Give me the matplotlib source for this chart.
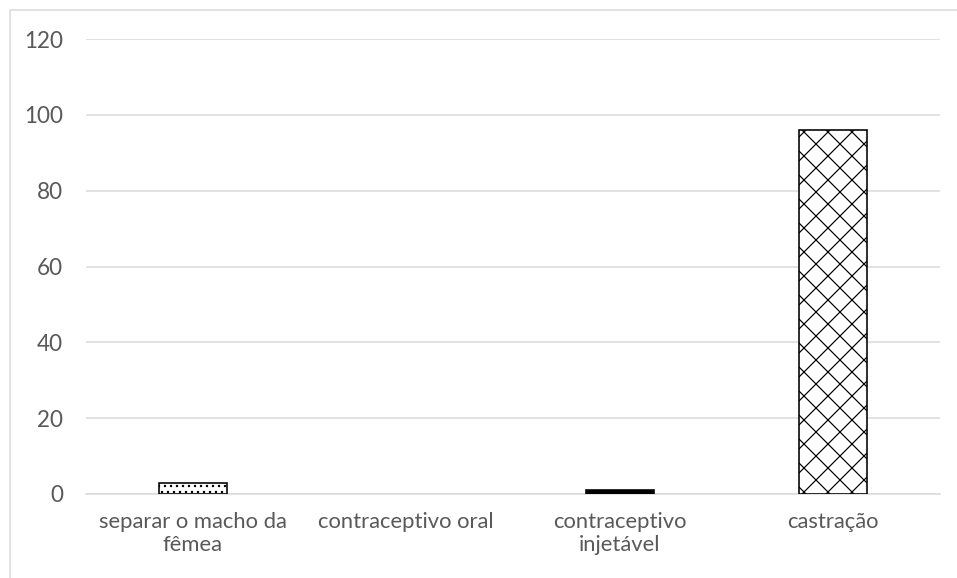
import matplotlib
matplotlib.use("Agg")
import matplotlib.pyplot as plt
from matplotlib.patches import Rectangle

categories = ["separar o macho da\nfêmea", "contraceptivo oral", "contraceptivo\ninjetável", "castração"]
values = [3, 0, 1, 96]
y_ticks = [0, 20, 40, 60, 80, 100, 120]

hatches = ["..", "", "", "x"]
faces = ["white", "white", "black", "white"]

plt.rcParams["font.family"] = ["Lato", "DejaVu Sans"]
plt.rcParams["hatch.linewidth"] = 1.2

W, H, DPI = 957, 578, 72
fig = plt.figure(figsize=(W / DPI, H / DPI), dpi=DPI)
fig.patch.set_facecolor("white")

# light frame around the chart area
fig.add_artist(Rectangle((9.5 / W, -0.1), 1.2, 1.1 - 9.5 / H, transform=fig.transFigure,
                         fill=False, edgecolor="#d9d9d9", linewidth=1.5))

ax = fig.add_axes([86 / W, 84 / H, (940 - 86) / W, (494 - 39) / H])
x = list(range(len(categories)))
bars = ax.bar(x, values, width=0.32, color=faces, edgecolor="black", linewidth=1.6,
              hatch=hatches, zorder=3)
for b, v in zip(bars, values):
    if v == 0:
        b.set_linewidth(0)

ax.set_xlim(-0.5, len(categories) - 0.5)
ax.set_ylim(0, 120)
ax.set_yticks(y_ticks)
ax.yaxis.grid(True, color="#d9d9d9", linewidth=1.5, zorder=0)
for s in ["top", "right", "left"]:
    ax.spines[s].set_visible(False)
ax.spines["bottom"].set_color("#d9d9d9")
ax.spines["bottom"].set_linewidth(1.5)
ax.spines["bottom"].set_zorder(1)

ax.set_xticks(x)
ax.set_xticklabels(categories, fontsize=22, color="#595959", linespacing=1.2)
ax.tick_params(axis="x", length=0, pad=18)
ax.tick_params(axis="y", length=0, pad=23, labelsize=22.5, labelcolor="#595959")

fig.savefig("out.png", dpi=DPI)
